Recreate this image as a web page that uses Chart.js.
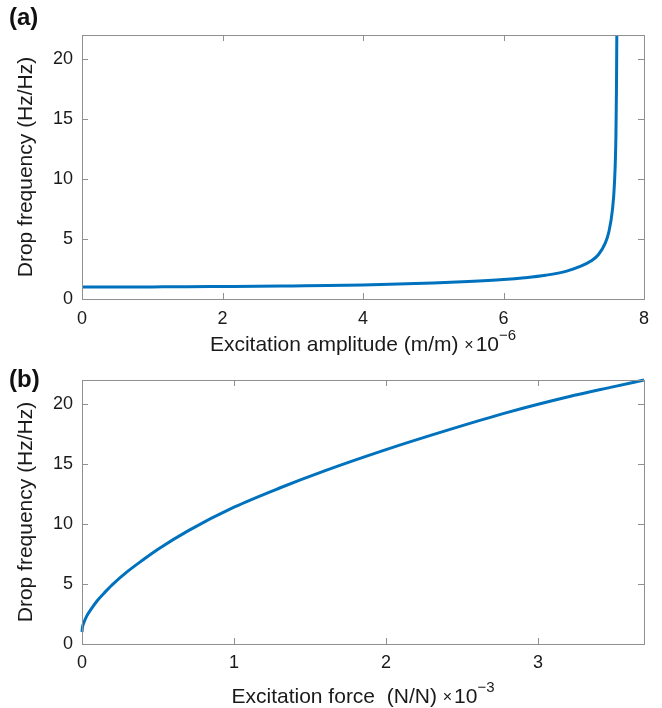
<!DOCTYPE html>
<html>
<head>
<meta charset="utf-8">
<script src="https://cdn.jsdelivr.net/npm/chart.js@4/dist/chart.umd.min.js"></script>
<style>
  html, body { margin: 0; padding: 0; background: #fff; }
  body { width: 662px; height: 708px; position: relative; overflow: hidden; font-family: "Liberation Sans", Arial, sans-serif; }
  .panel { position: absolute; left: 0; width: 662px; }
  .tag { position: absolute; left: 9px; font: bold 24px "Liberation Sans", Arial, sans-serif; color: #111; }
</style>
</head>
<body>
<div class="panel" style="top:0;height:355px"><canvas id="chartA"></canvas></div>
<div class="panel" style="top:355px;height:353px"><canvas id="chartB"></canvas></div>
<div class="tag" style="top:3px">(a)</div>
<div class="tag" style="top:365px">(b)</div>
<script>
// (a) drop frequency vs excitation amplitude (x in 1e-6 m/m)
const ampX = [0, 0.5, 1, 1.5, 2, 2.5, 3, 3.5, 4, 4.5, 5, 5.5, 6, 6.3, 6.6, 6.9, 7.1, 7.25, 7.35, 7.45, 7.5, 7.55, 7.58, 7.6, 7.608, 7.613];
const ampY = [1.0, 1.0, 1.01, 1.02, 1.04, 1.06, 1.09, 1.12, 1.17, 1.24, 1.33, 1.45, 1.62, 1.77, 1.98, 2.32, 2.73, 3.18, 3.69, 4.68, 5.6, 7.4, 9.7, 13.5, 17.5, 22];
const ampTicks = [0, 2, 4, 6, 8];

// (b) drop frequency vs excitation force (x in 1e-3 N/N)
const forceX = [0, 0.003, 0.01, 0.03, 0.06, 0.1, 0.15, 0.2, 0.3, 0.4, 0.5, 0.7, 1, 1.3, 1.6, 2, 2.4, 2.8, 3.2, 3.5, 3.697];
const forceY = [1.0, 1.4, 1.7, 2.3, 2.9, 3.6, 4.3, 4.95, 6.05, 7.0, 7.9, 9.45, 11.4, 13.0, 14.45, 16.2, 17.8, 19.3, 20.6, 21.45, 22.0];
const forceTicks = [0, 1, 2, 3];

const freqTicks = [0, 5, 10, 15, 20];

const FONT = '"Liberation Sans", Arial, sans-serif';
const BOX = '#8f8f8f';
const LINE = '#0072BD';
const TEXT = '#1a1a1a';

// box around the plot + MATLAB style inward ticks on all four sides
const framePlugin = {
  id: 'frame',
  afterDraw(chart) {
    const { ctx, chartArea: a, scales } = chart;
    ctx.save();
    ctx.strokeStyle = BOX;
    ctx.lineWidth = 1;
    ctx.strokeRect(a.left + 0.5, a.top + 0.5, a.right - a.left, a.bottom - a.top);
    ctx.beginPath();
    scales.x.ticks.forEach(t => {
      const px = Math.round(scales.x.getPixelForValue(t.value)) + 0.5;
      ctx.moveTo(px, a.bottom); ctx.lineTo(px, a.bottom - 6);
      ctx.moveTo(px, a.top); ctx.lineTo(px, a.top + 6);
    });
    scales.y.ticks.forEach(t => {
      const py = Math.round(scales.y.getPixelForValue(t.value)) + 0.5;
      ctx.moveTo(a.left, py); ctx.lineTo(a.left + 6, py);
      ctx.moveTo(a.right, py); ctx.lineTo(a.right - 6, py);
    });
    ctx.stroke();

    // x title with the power-of-ten factor
    const o = chart.options.plugins.frame;
    const size = 21;
    ctx.fillStyle = TEXT;
    ctx.textBaseline = 'alphabetic';
    ctx.font = size + 'px ' + FONT;
    const w1 = ctx.measureText(o.label + ' ').width;
    ctx.font = '16px ' + FONT;
    const wx = ctx.measureText('\u00d7').width + 2;
    ctx.font = size + 'px ' + FONT;
    const w10 = ctx.measureText('10').width;
    ctx.font = '15px ' + FONT;
    const wexp = ctx.measureText(o.exp).width;
    let x = (a.left + a.right) / 2 - (w1 + wx + w10 + wexp) / 2;
    const y = a.bottom + o.titleOffset;
    ctx.font = size + 'px ' + FONT;
    ctx.fillText(o.label + ' ', x, y); x += w1;
    ctx.font = '16px ' + FONT;
    ctx.fillText('\u00d7', x, y - 1); x += wx;
    ctx.font = size + 'px ' + FONT;
    ctx.fillText('10', x, y); x += w10;
    ctx.font = '15px ' + FONT;
    ctx.fillText(o.exp, x, y - 11);
    ctx.restore();
  }
};

function makeChart(id, xs, ys, xTicks, xMax, opts) {
  return new Chart(document.getElementById(id), {
    type: 'line',
    data: {
      datasets: [{
        data: xs.map((v, i) => ({ x: v, y: ys[i] })),
        borderColor: LINE,
        borderWidth: 3,
        pointRadius: 0,
        cubicInterpolationMode: 'monotone',
        clip: 2
      }]
    },
    options: {
      responsive: true,
      maintainAspectRatio: false,
      animation: false,
      events: [],
      layout: { padding: { top: opts.top, right: 18, left: 0, bottom: 0 } },
      plugins: {
        legend: { display: false },
        tooltip: { enabled: false },
        frame: { label: opts.label, exp: opts.exp, titleOffset: opts.titleOffset }
      },
      scales: {
        x: {
          type: 'linear',
          min: 0,
          max: xMax,
          grid: { display: false, drawTicks: false },
          border: { display: false },
          afterBuildTicks: s => { s.ticks = xTicks.map(v => ({ value: v })); },
          afterFit: s => { s.height = opts.xHeight; },
          ticks: { color: TEXT, font: { family: FONT, size: 18 }, padding: opts.tickPad, maxRotation: 0 }
        },
        y: {
          type: 'linear',
          min: 0,
          max: 22,
          grid: { display: false, drawTicks: false },
          border: { display: false },
          afterBuildTicks: s => { s.ticks = freqTicks.map(v => ({ value: v })); },
          afterFit: s => { s.width = 82; },
          ticks: { color: TEXT, font: { family: FONT, size: 18 }, padding: 9 },
          title: {
            display: true,
            text: 'Drop frequency (Hz/Hz)',
            color: TEXT,
            font: { family: FONT, size: 21 },
            padding: { top: 14, bottom: 0 }
          }
        }
      }
    },
    plugins: [framePlugin]
  });
}

makeChart('chartA', ampX, ampY, ampTicks, 8,
  { top: 35, xHeight: 56, tickPad: 9, titleOffset: 52, label: 'Excitation amplitude (m/m)', exp: '\u22126' });
makeChart('chartB', forceX, forceY, forceTicks, 3.697,
  { top: 25, xHeight: 64, tickPad: 8, titleOffset: 59, label: 'Excitation force  (N/N)', exp: '\u22123' });
</script>
</body>
</html>
